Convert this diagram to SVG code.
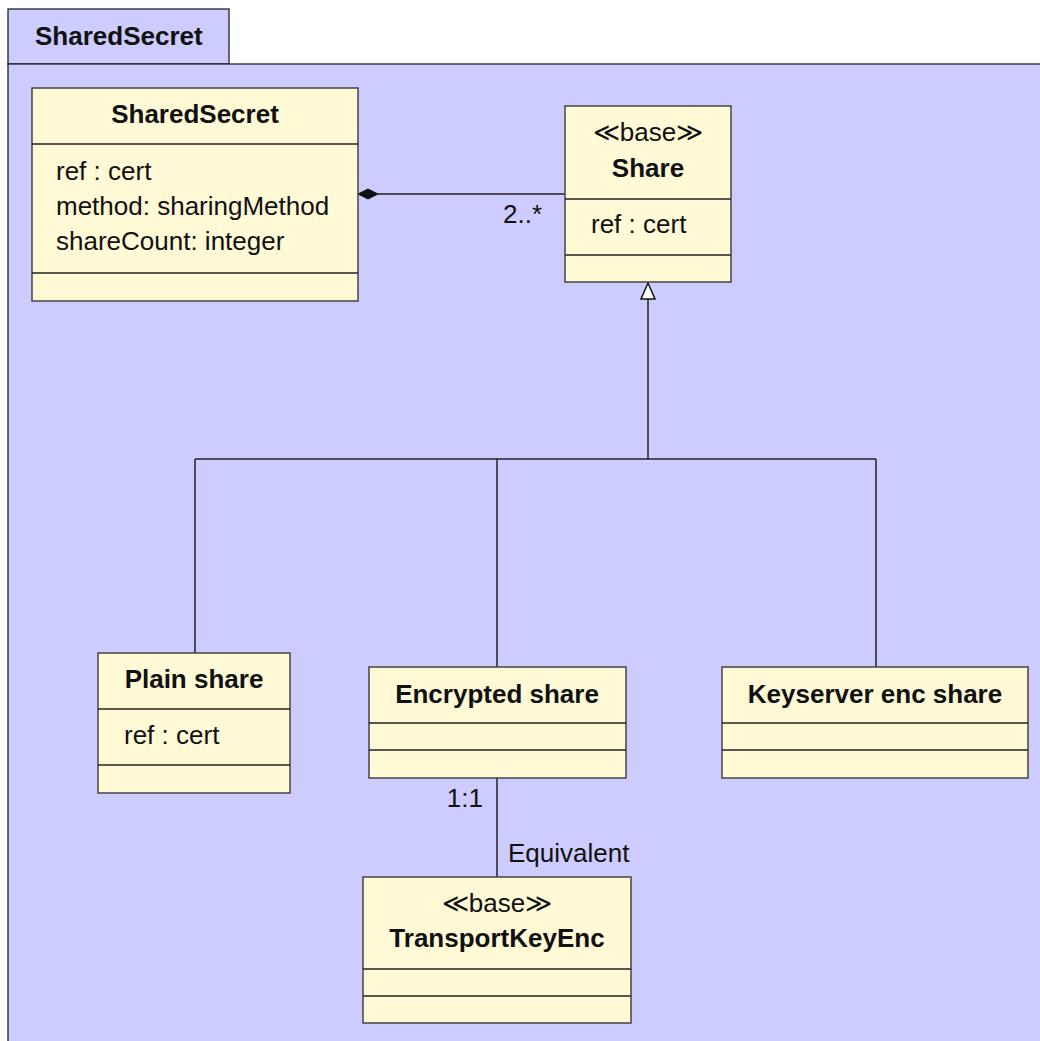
<svg xmlns="http://www.w3.org/2000/svg" width="1040" height="1041" viewBox="0 0 1040 1041">
<style>
.pkg{fill:#ccccff;stroke:#222;stroke-width:1.3}
.box{fill:#fff9d6;stroke:#444;stroke-width:1.5}
.div{stroke:#222;stroke-width:1.3}
.ln{stroke:#222;stroke-width:1.5;fill:none}
text{font-family:"Liberation Sans",Arial,sans-serif;font-size:26px;fill:#111}
.b{font-weight:bold}
.c{text-anchor:middle}
.r{text-anchor:end}
</style>
<g id="package">
<rect class="pkg" x="8" y="9" width="221" height="55"/>
<rect class="pkg" x="8" y="64" width="1040" height="990"/>
<text class="b" x="35" y="45">SharedSecret</text>
</g>
<g id="connectors">
<line class="ln" x1="378" y1="194" x2="565" y2="194"/>
<polygon points="358,194 368,189 378,194 368,199" fill="#111" stroke="#111" stroke-width="1"/>
<text class="r" x="542" y="223">2..*</text>
<line class="ln" x1="648" y1="299" x2="648" y2="459"/>
<polygon points="648,283 641,299 655,299" fill="#fff" stroke="#111" stroke-width="1.5"/>
<line class="ln" x1="195" y1="459" x2="876" y2="459"/>
<line class="ln" x1="195" y1="459" x2="195" y2="653"/>
<line class="ln" x1="497" y1="459" x2="497" y2="667"/>
<line class="ln" x1="876" y1="459" x2="876" y2="667"/>
<line class="ln" x1="497" y1="778" x2="497" y2="877"/>
<text class="r" x="483" y="807">1:1</text>
<text x="508" y="862">Equivalent</text>
</g>
<g id="SharedSecret">
<rect class="box" x="32" y="88" width="326" height="213"/>
<line class="div" x1="32" y1="144" x2="358" y2="144"/>
<line class="div" x1="32" y1="273" x2="358" y2="273"/>
<text class="b c" x="195" y="123">SharedSecret</text>
<text x="56" y="180">ref : cert</text>
<text x="56" y="215">method: sharingMethod</text>
<text x="56" y="250">shareCount: integer</text>
</g>
<g id="Share">
<rect class="box" x="565" y="106" width="166" height="176"/>
<line class="div" x1="565" y1="199" x2="731" y2="199"/>
<line class="div" x1="565" y1="255" x2="731" y2="255"/>
<text class="c" x="648" y="141">≪base≫</text>
<text class="b c" x="648" y="177">Share</text>
<text x="591" y="233">ref : cert</text>
</g>
<g id="PlainShare">
<rect class="box" x="98" y="653" width="192" height="140"/>
<line class="div" x1="98" y1="709" x2="290" y2="709"/>
<line class="div" x1="98" y1="765" x2="290" y2="765"/>
<text class="b c" x="194" y="688">Plain share</text>
<text x="124" y="744">ref : cert</text>
</g>
<g id="EncryptedShare">
<rect class="box" x="369" y="667" width="257" height="111"/>
<line class="div" x1="369" y1="723" x2="626" y2="723"/>
<line class="div" x1="369" y1="750" x2="626" y2="750"/>
<text class="b c" x="497" y="703">Encrypted share</text>
</g>
<g id="KeyserverEncShare">
<rect class="box" x="722" y="667" width="306" height="111"/>
<line class="div" x1="722" y1="723" x2="1028" y2="723"/>
<line class="div" x1="722" y1="750" x2="1028" y2="750"/>
<text class="b c" x="875" y="703">Keyserver enc share</text>
</g>
<g id="TransportKeyEnc">
<rect class="box" x="363" y="877" width="268" height="146"/>
<line class="div" x1="363" y1="969" x2="631" y2="969"/>
<line class="div" x1="363" y1="996" x2="631" y2="996"/>
<text class="c" x="497" y="912">≪base≫</text>
<text class="b c" x="497" y="947">TransportKeyEnc</text>
</g>
</svg>
